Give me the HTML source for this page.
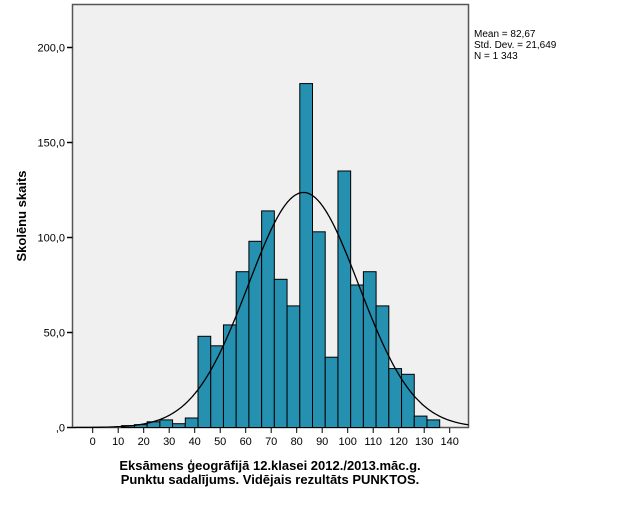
<!DOCTYPE html>
<html><head><meta charset="utf-8"><style>
body{margin:0;background:#fff;}
svg text{font-family:"Liberation Sans",sans-serif;}
</style></head><body>
<svg id="s" width="625" height="500" xmlns="http://www.w3.org/2000/svg">
<rect x="72.5" y="4.5" width="396" height="423" fill="#f0f0f0" stroke="#555" stroke-width="1.5"/>
<g id="bars" fill="#2590b0" stroke="#000" stroke-width="1"></g>
<path id="curve" fill="none" stroke="#000" stroke-width="1.3"/>
<g id="ax" font-size="11" fill="#000"></g>
<text x="474" y="37" font-size="10">Mean = 82,67</text>
<text x="474" y="48" font-size="10">Std. Dev. = 21,649</text>
<text x="474" y="59" font-size="10">N = 1 343</text>
<text transform="translate(26,216) rotate(-90)" text-anchor="middle" font-size="13" font-weight="bold">Skolēnu skaits</text>
<text x="270" y="470" text-anchor="middle" font-size="13" font-weight="bold">Eksāmens ģeogrāfijā 12.klasei 2012./2013.māc.g.</text>
<text x="270" y="484" text-anchor="middle" font-size="13" font-weight="bold">Punktu sadalījums. Vidējais rezultāts PUNKTOS.</text>
</svg>
<script>
var NS="http://www.w3.org/2000/svg";
function el(t,a,p){var e=document.createElementNS(NS,t);for(var k in a)e.setAttribute(k,a[k]);p.appendChild(e);return e;}
var y0=427.5,sy=1.9;
var h=[1,1.5,3,4,2,5,48,43,54,82,98,114,78,64,181,103,37,135,75,82,64,31,28,6,4];
var bx=121.7,bw=12.72,g=document.getElementById('bars');
h.forEach(function(v,i){el('rect',{x:bx+i*bw,y:y0-v*sy,width:bw,height:v*sy},g);});
var px=function(v){return 92.7+v*2.55;};
var d="";for(var x=72.5;x<=469;x+=1){var v=(x-92.7)/2.55;var c=123.7*Math.exp(-0.5*Math.pow((v-82.67)/21.649,2));d+=(d?"L":"M")+x.toFixed(1)+","+(y0-c*sy).toFixed(1);}
document.getElementById('curve').setAttribute('d',d);
var ax=document.getElementById('ax');
[0,50,100,150,200].forEach(function(t){var y=y0-t*sy;el('line',{x1:67,x2:72.5,y1:y,y2:y,stroke:'#000','stroke-width':1.5},ax);var tx=el('text',{x:65,y:y+4,'text-anchor':'end'},ax);tx.textContent=(t===0?'':t)+',0';});
for(var t=0;t<=140;t+=10){var x=px(t);el('line',{x1:x,x2:x,y1:428,y2:433,stroke:'#000','stroke-width':1},ax);var tx=el('text',{x:x,y:445,'text-anchor':'middle'},ax);tx.textContent=t;}
</script>
</body></html>
